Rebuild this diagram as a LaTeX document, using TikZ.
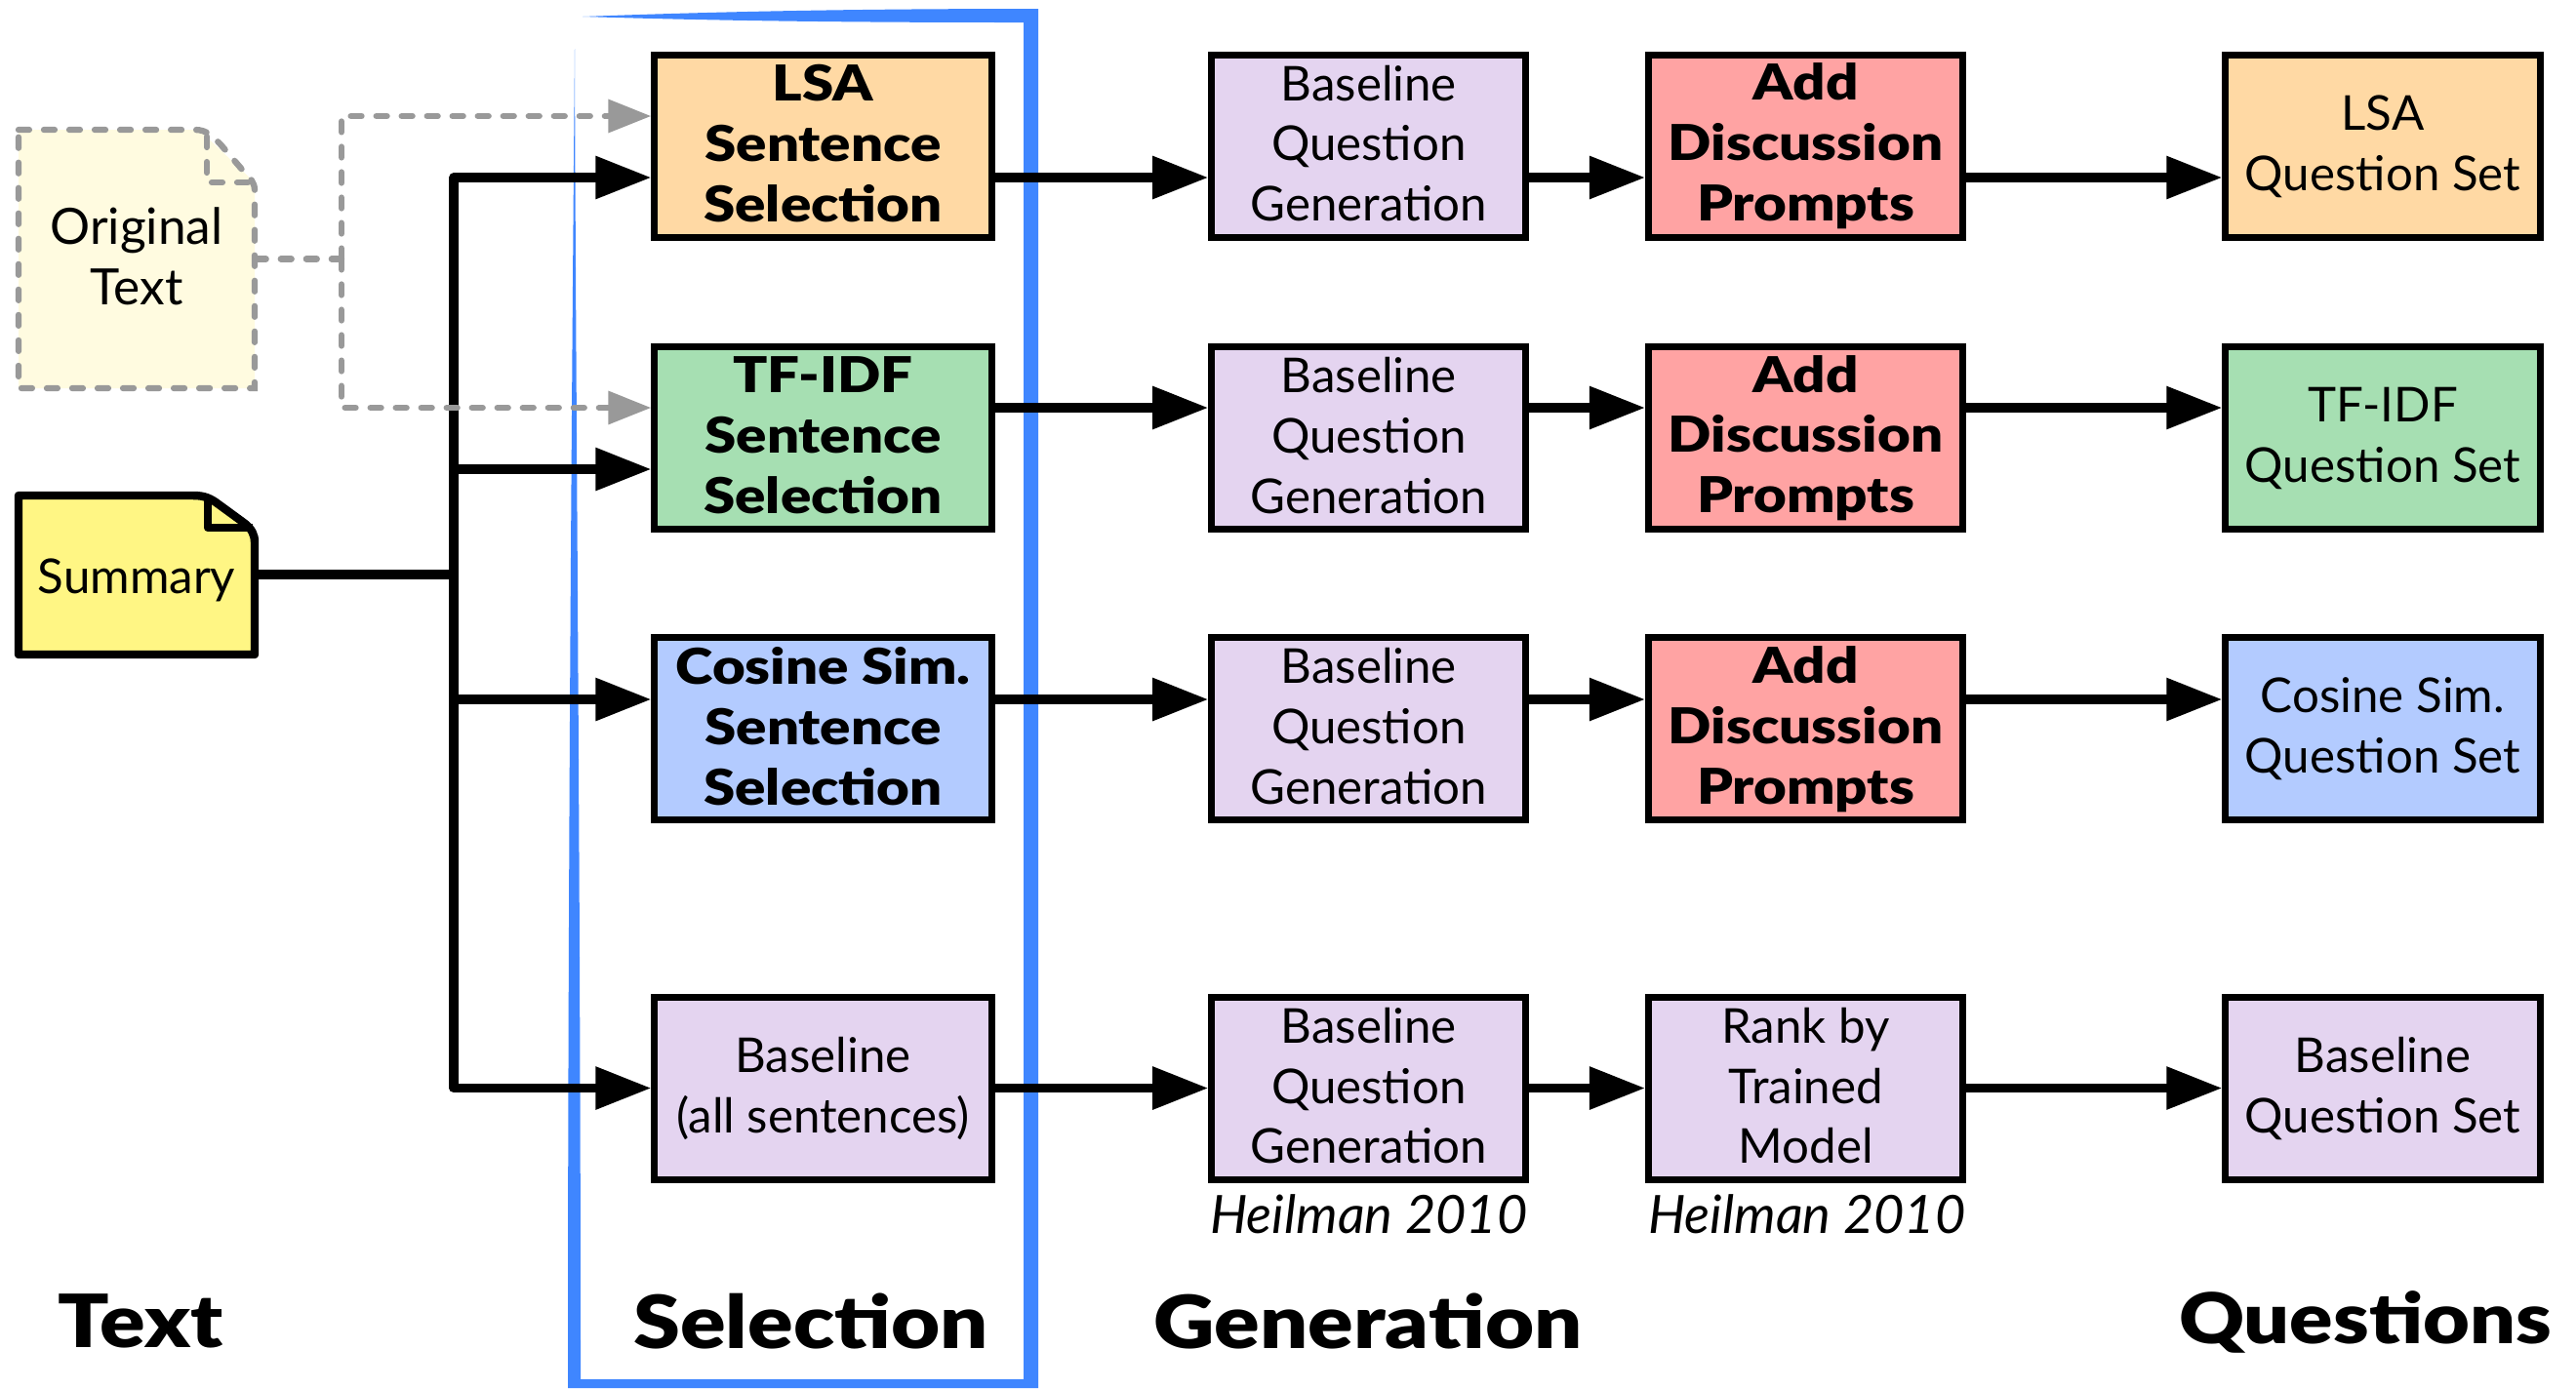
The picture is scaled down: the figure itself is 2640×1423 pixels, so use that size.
\documentclass[tikz,border=0pt]{standalone}
\usepackage{fontspec}
\usepackage{tikz}
\usetikzlibrary{arrows.meta,positioning}
\setmainfont{Lato}[BoldFont={Lato Black},ItalicFont={Lato Italic},BoldFeatures={FakeStretch=1.15}]

\definecolor{lsaorange}{HTML}{FFD9A4}
\definecolor{tfgreen}{HTML}{A6DFB2}
\definecolor{cosblue}{HTML}{B3CBFF}
\definecolor{basepurple}{HTML}{E4D4F0}
\definecolor{promptred}{HTML}{FFA3A3}
\definecolor{selblue}{HTML}{3F86FF}
\definecolor{sumyellow}{HTML}{FFF684}
\definecolor{origyellow}{HTML}{FFFBE0}
\definecolor{dashgray}{HTML}{999999}

\tikzset{
	x=0.01cm,y=-0.01cm,
	even/.style={execute at begin node=\rule{0pt}{13.2pt},execute at end node=\rule[-1.8pt]{0pt}{1.8pt}},
	plaintext/.style={even,align=center,inner sep=0pt,font=\fontsize{14}{17.6}\selectfont},
	boldtext/.style={even,align=center,inner sep=0pt,font=\fontsize{14.4}{17.6}\bfseries\selectfont},
	stagebox/.style={draw,line width=2pt,rectangle,minimum height=1.87cm},
	selbox/.style={stagebox,minimum width=3.45cm},
	genbox/.style={stagebox,minimum width=3.22cm},
	notebox/.style={inner sep=0pt,minimum width=2.42cm},
	flow/.style={line width=2.6pt,line cap=round,line join=round,-{Triangle[length=0.57cm,width=0.42cm]}},
	feed/.style={line width=2.6pt,line cap=round,line join=round},
	hint/.style={draw=dashgray,line width=1.8pt,line cap=round,dash pattern=on 3.1pt off 4.3pt},
	hintflow/.style={hint,-{Triangle[length=0.44cm,width=0.33cm,color=dashgray,sep=0pt]}},
	stagelabel/.style={font=\fontsize{21.4}{26}\bfseries\selectfont,anchor=base,inner sep=0pt},
	citelabel/.style={font=\fontsize{15.4}{17}\itshape\selectfont,inner sep=0pt},
}

\begin{document}
\begin{tikzpicture}[on grid]
	\useasboundingbox (0,0) rectangle (2640,1423);

	% selection frame
	\fill[selblue] (597,17) .. controls (760,11) and (900,9) .. (1064,9) -- (1064,1423) -- (582,1423)
		.. controls (582,900) and (586,400) .. (589,50)
		.. controls (590,400) and (595,900) .. (595,1414) -- (1049,1414) -- (1049,23)
		.. controls (900,23) and (760,22) .. (597,17) -- cycle;

	% text notes
	\fill[origyellow] (19,133) -- (204,133) -- (261,187) -- (261,398) -- (19,398) -- cycle;
	\draw[hint] (19,133) -- (200,133) .. controls (212,133) and (218,140) .. (226,148) -- (250,176) .. controls (256,182) and (261,187) .. (261,195) -- (261,398) -- (19,398) -- cycle;
	\draw[hint] (212,140) -- (212,187) -- (255,187);
	\node[notebox,minimum height=2.65cm,plaintext,font=\fontsize{14.6}{17.6}\selectfont] (orig) at (140,265.5) {Original\\Text};
	\draw[fill=sumyellow,line width=2.4pt,line join=round] (19,508) -- (198,508) .. controls (210,508) and (216,511) .. (224,517) -- (250,536) .. controls (258,542) and (261,548) .. (261,556) -- (261,671) -- (19,671) -- cycle;
	\draw[line width=2.4pt,line join=round] (213,510) -- (213,541) -- (259,541);
	\node[notebox,minimum height=1.63cm,plaintext] (summary) at (140,589) {Summary};

	% selection column
	\node[selbox,fill=lsaorange,boldtext] (lsasel) at (843.5,150) {LSA\\Sentence\\Selection};
	\node[selbox,fill=tfgreen,boldtext] (tfsel) [below=2.99cm of lsasel] {TF-IDF\\Sentence\\Selection};
	\node[selbox,fill=cosblue,boldtext] (cossel) [below=2.98cm of tfsel] {Cosine Sim.\\Sentence\\Selection};
	\node[selbox,fill=basepurple,plaintext] (basesel) [below=3.685cm of cossel] {Baseline\\(all sentences)};

	% generation columns
	\node[genbox,fill=basepurple,plaintext] (lsagen) [right=5.59cm of lsasel] {Baseline\\Question\\Generation};
	\node[genbox,fill=basepurple,plaintext] (tfgen) [right=5.59cm of tfsel] {Baseline\\Question\\Generation};
	\node[genbox,fill=basepurple,plaintext] (cosgen) [right=5.59cm of cossel] {Baseline\\Question\\Generation};
	\node[genbox,fill=basepurple,plaintext] (basegen) [right=5.59cm of basesel] {Baseline\\Question\\Generation};
	\node[genbox,fill=promptred,boldtext] (lsaadd) [right=4.475cm of lsagen] {Add\\Discussion\\Prompts};
	\node[genbox,fill=promptred,boldtext] (tfadd) [right=4.475cm of tfgen] {Add\\Discussion\\Prompts};
	\node[genbox,fill=promptred,boldtext] (cosadd) [right=4.475cm of cosgen] {Add\\Discussion\\Prompts};
	\node[genbox,fill=basepurple,plaintext] (rank) [right=4.475cm of basegen] {Rank by\\Trained\\Model};

	% question sets
	\node[genbox,fill=lsaorange,plaintext] (lsaset) [right=5.91cm of lsaadd] {LSA\\Question Set};
	\node[genbox,fill=tfgreen,plaintext] (tfset) [right=5.91cm of tfadd] {TF-IDF\\Question Set};
	\node[genbox,fill=cosblue,plaintext] (cosset) [right=5.91cm of cosadd] {Cosine Sim.\\Question Set};
	\node[genbox,fill=basepurple,plaintext] (baseset) [right=5.91cm of rank] {Baseline\\Question Set};

	\node[citelabel] (cite1) at (1403,1245) {Heilman 2010};
	\node[citelabel] (cite2) at (1852,1245) {Heilman 2010};

	% heights of the arrows
	\coordinate (fork) at (465,589);
	\coordinate (split) at (350,265.5);
	\coordinate (row1) at (0,182);
	\coordinate (row2) at (0,418);
	\coordinate (row2in) at (0,481);
	\coordinate (row3) at (0,717);
	\coordinate (row4) at (0,1115.5);
	\coordinate (dash1) at (0,119);

	\draw[feed] (summary.east) -- (fork);
	\draw[flow] (fork) |- (lsasel.west |- row1);
	\draw[flow] (fork) |- (tfsel.west |- row2in);
	\draw[flow] (fork) |- (cossel.west |- row3);
	\draw[flow] (fork) |- (basesel.west |- row4);

	\draw[flow] (lsasel.east |- row1) -- (lsagen.west |- row1);
	\draw[flow] (lsagen.east |- row1) -- (lsaadd.west |- row1);
	\draw[flow] (lsaadd.east |- row1) -- (lsaset.west |- row1);
	\draw[flow] (tfsel.east |- row2) -- (tfgen.west |- row2);
	\draw[flow] (tfgen.east |- row2) -- (tfadd.west |- row2);
	\draw[flow] (tfadd.east |- row2) -- (tfset.west |- row2);
	\draw[flow] (cossel.east |- row3) -- (cosgen.west |- row3);
	\draw[flow] (cosgen.east |- row3) -- (cosadd.west |- row3);
	\draw[flow] (cosadd.east |- row3) -- (cosset.west |- row3);
	\draw[flow] (basesel.east |- row4) -- (basegen.west |- row4);
	\draw[flow] (basegen.east |- row4) -- (rank.west |- row4);
	\draw[flow] (rank.east |- row4) -- (baseset.west |- row4);

	% original text, optional input
	\draw[hint] (orig.east) -- (split);
	\draw[hintflow] (split) |- (lsasel.west |- dash1);
	\draw[hintflow] (split) |- (tfsel.west |- row2);

	% stage names
	\node[stagelabel] (textlabel) at (144,1381) {Text};
	\node[stagelabel] (sellabel) at (831,1382) {Selection};
	\node[stagelabel] (genlabel) at (1402,1382) {Generation};
	\node[stagelabel,font=\fontsize{20.4}{26}\bfseries\selectfont] (setlabel) at (2424,1377) {Questions};
\end{tikzpicture}
\end{document}
